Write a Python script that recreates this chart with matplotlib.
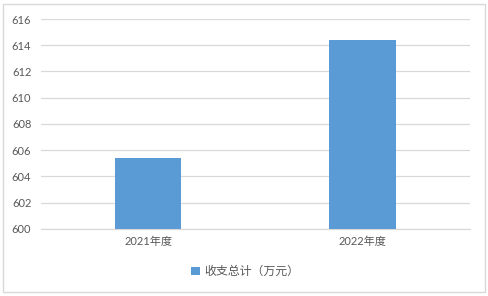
import matplotlib.pyplot as plt
from matplotlib.patches import Rectangle

plt.rcParams['font.family'] = ['Lato', 'Noto Sans CJK SC', 'DejaVu Sans']

# 数据
categories = ['2021年度', '2022年度']
totals = [605.4, 614.4]
series_name = '收支总计（万元）'
y_ticks = [600, 602, 604, 606, 608, 610, 612, 614, 616]

bar_color = '#5b9bd5'
grid_color = '#d9d9d9'
text_color = '#595959'

fig = plt.figure(figsize=(4.88, 2.96), dpi=100)
ax = fig.add_axes([0.084, 0.2264, 0.879, 0.7094])

x = range(len(categories))
ax.bar(x, [t - 600 for t in totals], bottom=600, width=0.31,
       color=bar_color, label=series_name, zorder=3)

ax.set_xlim(-0.5, 1.5)
ax.set_ylim(600, 616)
ax.set_yticks(y_ticks)
ax.set_xticks(list(x))
ax.set_xticklabels(categories, fontsize=8, color=text_color,
                   family=['Lato', 'Noto Sans CJK SC'])
ax.tick_params(axis='y', labelsize=8, labelcolor=text_color, length=0, pad=7)
ax.tick_params(axis='x', length=0, pad=5)
ax.grid(axis='y', color=grid_color, linewidth=0.9, zorder=0)
for side in ['top', 'right', 'left']:
    ax.spines[side].set_visible(False)
ax.spines['bottom'].set_color(grid_color)
ax.spines['bottom'].set_linewidth(0.9)

leg = fig.legend(loc='center', bbox_to_anchor=(0.502, 0.082), frameon=False,
                 handlelength=0.75, handleheight=0.75, handletextpad=0.35,
                 prop={'family': ['Noto Sans CJK SC'], 'size': 8.6})
for t in leg.get_texts():
    t.set_color(text_color)

# 外框
fig.patches.append(Rectangle((0.006, 0.012), 0.987, 0.975, transform=fig.transFigure,
                             fill=False, edgecolor=grid_color, linewidth=1))

plt.savefig('out.png', dpi=100)
